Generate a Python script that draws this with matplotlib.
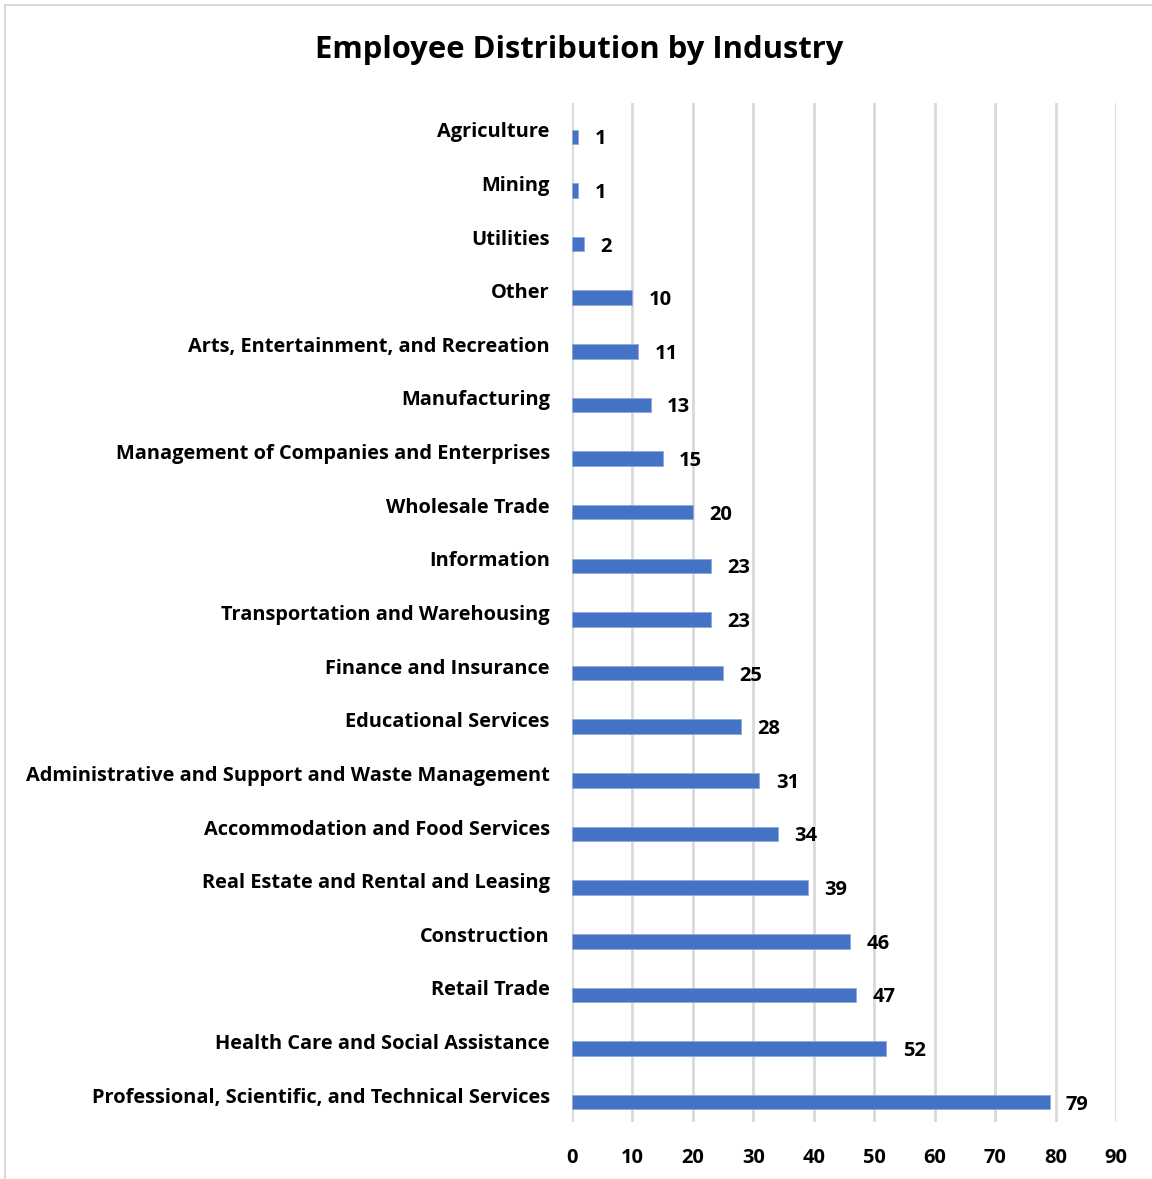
import matplotlib.pyplot as plt
from matplotlib.patches import Rectangle

plt.rcParams['font.family'] = ['Open Sans', 'DejaVu Sans']
plt.rcParams['font.weight'] = 'bold'

industries = [
    'Agriculture', 'Mining', 'Utilities', 'Other',
    'Arts, Entertainment, and Recreation', 'Manufacturing',
    'Management of Companies and Enterprises', 'Wholesale Trade',
    'Information', 'Transportation and Warehousing',
    'Finance and Insurance', 'Educational Services',
    'Administrative and Support and Waste Management',
    'Accommodation and Food Services', 'Real Estate and Rental and Leasing',
    'Construction', 'Retail Trade', 'Health Care and Social Assistance',
    'Professional, Scientific, and Technical Services',
]
employees = [1, 1, 2, 10, 11, 13, 15, 20, 23, 23, 25, 28, 31, 34, 39, 46, 47, 52, 79]
x_ticks = list(range(0, 100, 10))

fig = plt.figure(figsize=(11.52, 11.79), dpi=100)
ax = fig.add_axes([572 / 1152, 1 - 1122 / 1179, 544 / 1152, 1019 / 1179])

# chart border (only top and left edges fall inside the canvas)
fig.patches.append(Rectangle((5 / 1152, -0.1), 1.2, (1179 - 5) / 1179 + 0.1,
                             transform=fig.transFigure, fill=False,
                             edgecolor='#d9d9d9', linewidth=1.5))

pos = list(range(len(industries)))
bar_pos = [p + 0.13 for p in pos]
bars = ax.barh(bar_pos, employees, height=0.27, color='#4472C4',
               edgecolor='#8faadc', linewidth=0.6, zorder=3)

for b, v in zip(bars, employees):
    ax.text(v + 2.7, b.get_y() + b.get_height() / 2, f'{v}', ha='left',
            va='center_baseline', fontsize=14.5, fontweight='bold', color='black')

ax.set_ylim(len(industries) - 0.5, -0.5)
ax.set_xlim(0, 90)
ax.set_yticks(pos)
ax.set_yticklabels(industries, fontsize=14.4, fontweight='bold')
ax.set_xticks(x_ticks)
ax.set_xticklabels([str(t) for t in x_ticks], fontsize=14.4, fontweight='bold')
ax.tick_params(axis='y', length=0, pad=16)
ax.tick_params(axis='x', length=0, pad=19)

ax.grid(axis='x', color='#d9d9d9', linewidth=2, zorder=0)
for s in ax.spines.values():
    s.set_visible(False)

fig.text(0.503, 1 - 50 / 1179, 'Employee Distribution by Industry', ha='center',
         va='center', fontsize=22.3, fontweight='bold')

fig.savefig('out.png', dpi=100)
